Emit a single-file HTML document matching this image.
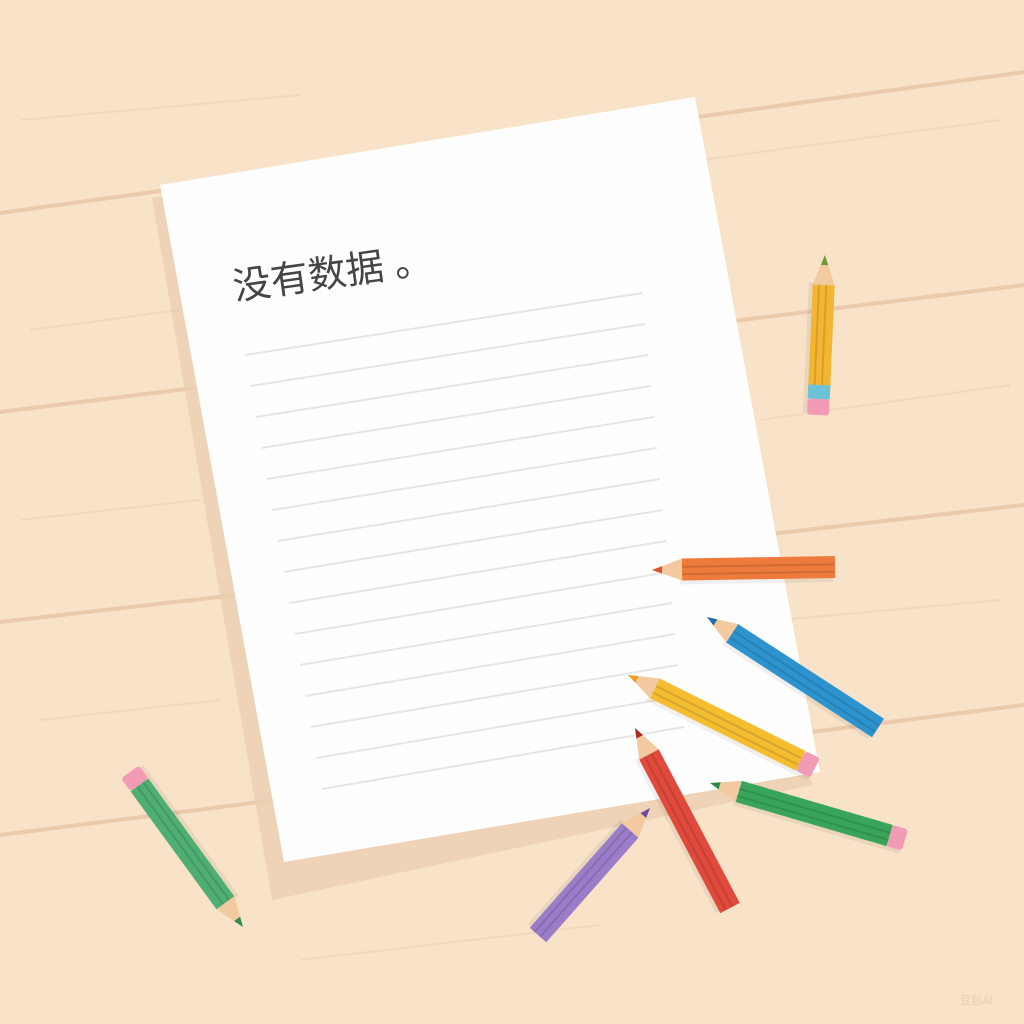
<!DOCTYPE html>
<html><head><meta charset="utf-8">
<style>
html,body{margin:0;padding:0;width:1024px;height:1024px;overflow:hidden;background:#f8e2c8;}
svg{display:block}
</style></head>
<body>
<svg id="scene" width="1024" height="1024" viewBox="0 0 1024 1024" xmlns="http://www.w3.org/2000/svg">
  <rect width="1024" height="1024" fill="#f8e2c8"/>
  <g stroke="#ebc9aa" stroke-width="4" fill="none">
    <line x1="0" y1="213" x2="1024" y2="72"/>
    <line x1="0" y1="412" x2="1024" y2="285"/>
    <line x1="0" y1="622" x2="1024" y2="505"/>
    <line x1="0" y1="835" x2="1024" y2="705"/>
  </g>
  <g stroke="#f0d4b8" stroke-width="2" fill="none" opacity="0.8">
    <line x1="20" y1="120" x2="300" y2="95"/>
    <line x1="700" y1="160" x2="1000" y2="120"/>
    <line x1="30" y1="330" x2="180" y2="310"/>
    <line x1="760" y1="420" x2="1010" y2="385"/>
    <line x1="20" y1="520" x2="200" y2="500"/>
    <line x1="40" y1="720" x2="220" y2="700"/>
    <line x1="300" y1="960" x2="600" y2="925"/>
    <line x1="780" y1="620" x2="1000" y2="600"/>
  </g>
  <polygon points="152,198 690,110 812,785 272,900" fill="#ebcdb0" opacity="0.75"/>
  <polygon points="160,185 695,97 820,772 284,862" fill="#fefefe"/>
  <g id="lines" stroke="#e6e6e6" stroke-width="2"></g>
  <text x="235" y="300" transform="rotate(-8 235 300)" font-family="'Liberation Sans','Noto Sans CJK SC',sans-serif" font-size="38" fill="#454545">没有数据 。</text>
  <g id="pencils"></g>
  <text x="960" y="1004" font-family="'Liberation Sans','Noto Sans CJK SC',sans-serif" font-size="11" fill="#e8cdb0">豆包AI</text>
</svg>
<script>
const NS='http://www.w3.org/2000/svg';
const lines=document.getElementById('lines');
for(let i=0;i<15;i++){
  const l=document.createElementNS(NS,'line');
  const x1=245+i*5.5, y1=355+i*31, x2=642+i*3, y2=293+i*31;
  l.setAttribute('x1',x1);l.setAttribute('y1',y1);l.setAttribute('x2',x2);l.setAttribute('y2',y2);
  
  
  lines.appendChild(l);
}
const pencilSpecs=[
  ['pencil-yellow-upright',825,255,818,415,'#f2b632','#6a9a3a',true,'#6cc3d8'],
  ['pencil-orange',652,570,835,567,'#ee7a3c','#d9542a',false,null],
  ['pencil-blue',707,617,878,728,'#2d93cf','#1f6fa8',false,null],
  ['pencil-yellow',628,675,815,768,'#f5bd30','#e8a020',true,null],
  ['pencil-red',635,728,730,908,'#e04a3c','#a82a22',false,null],
  ['pencil-green',710,783,905,840,'#39a55a','#2c8a48',true,null],
  ['pencil-purple',650,808,538,935,'#9b7cc9','#6b4aa0',false,null],
  ['pencil-green-left',243,927,130,772,'#4fae72','#2f8a50',true,null]
];
const pg=document.getElementById('pencils');
pencilSpecs.forEach(p=>{
  const [name,tx,ty,ex,ey,col,tip,eraser,band]=p;
  const len=Math.hypot(ex-tx,ey-ty), ang=Math.atan2(ey-ty,ex-tx)*180/Math.PI;
  const w=22,h=w/2;
  const g=document.createElementNS(NS,'g');
  g.setAttribute('transform',`translate(${tx},${ty}) rotate(${ang})`);
  
  
  const cone=30, er=eraser?16:0;
  let html=`<rect x="${cone-2}" y="${-h+4}" width="${len-cone}" height="${w}" fill="#000" opacity="0.06"/>`;
  html+=`<polygon points="0,0 ${cone},${-h} ${cone},${h}" fill="#f3c9a0"/>`;
  html+=`<polygon points="0,0 10,${-h/3} 10,${h/3}" fill="${tip}"/>`;
  html+=`<rect x="${cone}" y="${-h}" width="${len-cone-er}" height="${w}" fill="${col}"/>`;
  html+=`<rect x="${cone}" y="${-h/3}" width="${len-cone-er}" height="2" fill="#000" opacity="0.12"/>`;
  html+=`<rect x="${cone}" y="${h/3}" width="${len-cone-er}" height="2" fill="#000" opacity="0.12"/>`;
  if(band) html+=`<rect x="${len-er-14}" y="${-h}" width="14" height="${w}" fill="${band}"/>`;
  if(eraser) html+=`<rect x="${len-er}" y="${-h}" width="${er}" height="${w}" rx="3" fill="#f29bb5"/>`;
  g.innerHTML=html;
  pg.appendChild(g);
});
</script>
</body></html>
